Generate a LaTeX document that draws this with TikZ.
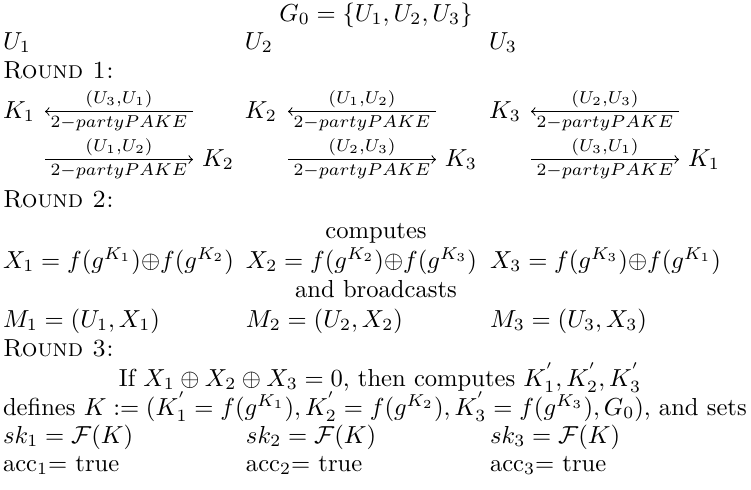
\documentclass[tikz,border=0pt]{standalone}
\usepackage{amsmath,amssymb}
\usetikzlibrary{calc}
\begin{document}
\begin{tikzpicture}[x=0.4065pt,y=-0.4065pt,
  txt/.style={anchor=base west, inner sep=0pt, outer sep=0pt},
  ctr/.style={anchor=base, inner sep=0pt, outer sep=0pt},
  pake/.style={->, >=to, line width=0.4pt},
  up/.style={midway, above, inner sep=1.5pt},
  dn/.style={midway, below, inner sep=1.5pt}]
\useasboundingbox (0,0) rectangle (751,490);
% header
\node[ctr] (g0) at (376,21) {$G_0=\{U_1,U_2,U_3\}$};
\node[txt] (u1) at (3,49) {$U_1$};
\node[txt] (u2) at (245,49) {$U_2$};
\node[txt] (u3) at (489,49) {$U_3$};
\node[txt] (r1) at (3,78) {\textsc{Round 1:}};
% round 1, first row
\node[txt] (ka1) at (3,118) {$K_1$};
\node[txt] (ka2) at (245,118) {$K_2$};
\node[txt] (ka3) at (489,118) {$K_3$};
\coordinate (la1) at (45,111.5);  \coordinate (ra1) at (193,111.5);
\coordinate (la2) at (288,111.5); \coordinate (ra2) at (436,111.5);
\coordinate (la3) at (531,111.5); \coordinate (ra3) at (679,111.5);
\draw[pake] (ra1) -- (la1) node[up] {$\scriptstyle (U_3,U_1)$} node[dn] {$\scriptstyle 2-party PAKE$};
\draw[pake] (ra2) -- (la2) node[up] {$\scriptstyle (U_1,U_2)$} node[dn] {$\scriptstyle 2-party PAKE$};
\draw[pake] (ra3) -- (la3) node[up] {$\scriptstyle (U_2,U_3)$} node[dn] {$\scriptstyle 2-party PAKE$};
% round 1, second row
\node[txt] (kb1) at (202,166) {$K_2$};
\node[txt] (kb2) at (445,166) {$K_3$};
\node[txt] (kb3) at (688,166) {$K_1$};
\coordinate (lb1) at (45,159.5);  \coordinate (rb1) at (193,159.5);
\coordinate (lb2) at (288,159.5); \coordinate (rb2) at (436,159.5);
\coordinate (lb3) at (531,159.5); \coordinate (rb3) at (679,159.5);
\draw[pake] (lb1) -- (rb1) node[up] {$\scriptstyle (U_1,U_2)$} node[dn] {$\scriptstyle 2-party PAKE$};
\draw[pake] (lb2) -- (rb2) node[up] {$\scriptstyle (U_2,U_3)$} node[dn] {$\scriptstyle 2-party PAKE$};
\draw[pake] (lb3) -- (rb3) node[up] {$\scriptstyle (U_3,U_1)$} node[dn] {$\scriptstyle 2-party PAKE$};
% round 2
\node[txt] (r2) at (3,207) {\textsc{Round 2:}};
\node[ctr] (comp) at (376,238) {computes};
\node[txt] (x1) at (3,268) {$X_1=f(g^{K_1}){\oplus}f(g^{K_2})$};
\node[txt] (x2) at (246,268) {$X_2=f(g^{K_2}){\oplus}f(g^{K_3})$};
\node[txt] (x3) at (490,268) {$X_3=f(g^{K_3}){\oplus}f(g^{K_1})$};
\node[ctr] (bc) at (376,297) {and broadcasts};
\node[txt] (m1) at (3,327) {$M_1=(U_1,X_1)$};
\node[txt] (m2) at (246,327) {$M_2=(U_2,X_2)$};
\node[txt] (m3) at (490,327) {$M_3=(U_3,X_3)$};
% round 3
\node[txt] (r3) at (3,356) {\textsc{Round 3:}};
\node[ctr] (ifl) at (380,386) {If $X_1\oplus X_2\oplus X_3=0$, then computes $K^{'}_1,K^{'}_2,K^{'}_3$};
\node[txt] (def) at (3,415) {defines $K:=(K^{'}_1=f(g^{K_1}),K^{'}_2=f(g^{K_2}),K^{'}_3=f(g^{K_3}),G_0)$, and sets};
\node[txt] (sk1) at (3,443) {$sk_1=\mathcal{F}(K)$};
\node[txt] (sk2) at (246,443) {$sk_2=\mathcal{F}(K)$};
\node[txt] (sk3) at (490,443) {$sk_3=\mathcal{F}(K)$};
\node[txt] (ac1) at (3,471) {acc$_1$= true};
\node[txt] (ac2) at (246,471) {acc$_2$= true};
\node[txt] (ac3) at (490,471) {acc$_3$= true};
\end{tikzpicture}
\end{document}
